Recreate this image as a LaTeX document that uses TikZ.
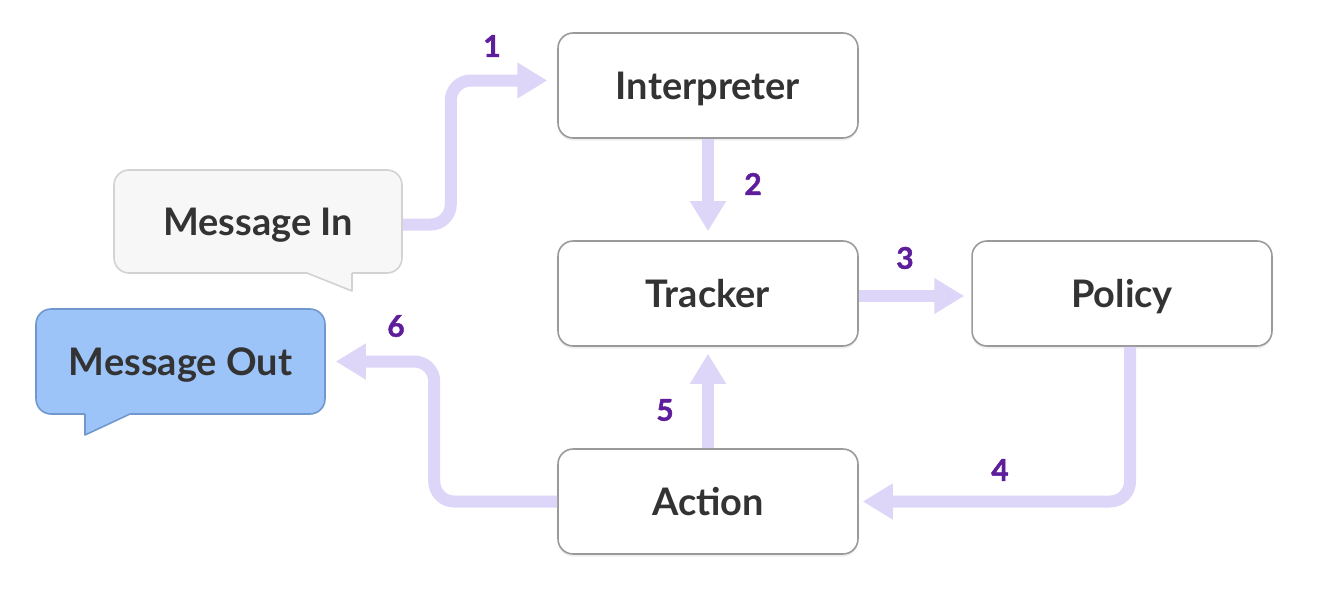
\documentclass[tikz,border=0pt]{standalone}
\usepackage{fontspec}
\setmainfont{Lato}
\newfontfamily\numfont{Lato}[BoldFeatures={FakeBold=1.5}]
\usetikzlibrary{arrows.meta,shadows,calc}
\definecolor{flow}{HTML}{DDD6F8}
\definecolor{numc}{HTML}{5E1E9B}
\definecolor{boxline}{HTML}{9A9A9A}
\definecolor{txt}{HTML}{333333}
\definecolor{infill}{HTML}{F7F7F7}
\definecolor{inline}{HTML}{D2D2D2}
\definecolor{outfill}{HTML}{9DC4F8}
\definecolor{outline}{HTML}{7098CC}
\tikzset{
  stepbox/.style={draw=boxline, line width=0.9pt, fill=white, rounded corners=0.3cm,
    minimum width=6cm, minimum height=2.1cm, text=txt, font=\fontsize{21.6}{26}\selectfont\bfseries,
    text height=15.5pt, text depth=0pt,
    drop shadow={opacity=0.12, shadow xshift=0pt, shadow yshift=-1.5pt}},
  bubble/.style={line width=0.9pt, rounded corners=0.3cm, text=txt,
    font=\fontsize{21.6}{26}\selectfont\bfseries, text height=15.5pt, text depth=0pt},
  flowarrow/.style={draw=flow, line width=0.24cm, rounded corners=0.4cm,
    -{Triangle[width=0.68cm,length=0.6cm]}},
  num/.style={text=numc, font=\fontsize{17}{20}\selectfont\numfont\bfseries}
}
\begin{document}
\begin{tikzpicture}[x=0.02cm,y=-0.02cm]
\useasboundingbox[fill=white] (0,0) rectangle (1344,612);
% nodes
\node[stepbox] (interp) at (708,85.5) {Interpreter};
\node[stepbox] (tracker) at (708,293.5) {Tracker};
\node[stepbox] (policy) at (1122,293.5) {Policy};
\node[stepbox] (action) at (708,501.5) {Action};
% message in bubble
\node[bubble, draw=inline, fill=infill, minimum width=5.76cm, minimum height=2.06cm] (min) at (258,221.5) {Message In};
\fill[infill] (305,271.5) -- (352,271.5) -- (352,291) -- cycle;
\draw[inline, line width=0.9pt, line join=round] (307,273) -- (352,291) -- (352,273);
% message out bubble
\node[bubble, draw=outline, fill=outfill, minimum width=5.78cm, minimum height=2.1cm] (mout) at (180.5,361.5) {Message Out};
\fill[outfill] (85,412.5) -- (132,412.5) -- (85,435) -- cycle;
\draw[outline, line width=0.9pt, line join=round] (85,414) -- (85,435) -- (130,414);
% arrows
\draw[flowarrow, shorten >=0.2cm] ([yshift=-0.06cm]min.east) -- ++(48,0) |- ([yshift=0.1cm]interp.west);
\draw[flowarrow, shorten >=0.18cm] (interp.south) -- (tracker.north);
\draw[flowarrow, shorten >=0.14cm] ([yshift=-0.05cm]tracker.east) -- ([yshift=-0.05cm]policy.west);
\draw[flowarrow, shorten >=0.08cm] ([xshift=0.16cm]policy.south) |- (action.east);
\draw[flowarrow, shorten >=0.14cm] (action.north) -- (tracker.south);
\draw[flowarrow, shorten >=0.2cm] (action.west) -- ++(-123,0) |- (mout.east);
% labels
\node[num] (l1) at (492,46) {1};
\node[num] (l2) at (753,184) {2};
\node[num] (l3) at (905,258) {3};
\node[num] (l4) at (1000,470) {4};
\node[num] (l5) at (665,410) {5};
\node[num] (l6) at (396,326) {6};
\end{tikzpicture}
\end{document}
